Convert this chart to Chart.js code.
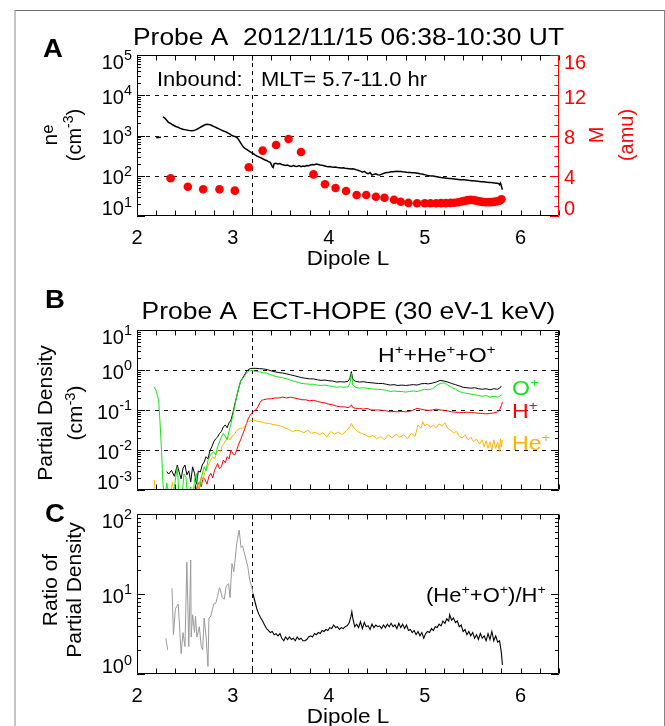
<!DOCTYPE html>
<html><head><meta charset="utf-8">
<script src="https://cdn.jsdelivr.net/npm/chart.js@4.4.1/dist/chart.umd.min.js"></script>
<style>
html,body{margin:0;padding:0;background:#fff;width:665px;height:726px;overflow:hidden;}
#frame{position:absolute;left:14px;top:10px;width:651px;height:780px;box-sizing:border-box;border-left:2px solid #c6c6c6;border-top:1px solid #6a6a6a;border-right:1px solid #858585;}
canvas{position:absolute;left:0;}
</style></head><body>
<div id="frame"></div>
<canvas id="cA" width="665" height="272" style="top:0px"></canvas>
<canvas id="cB" width="665" height="228" style="top:272px"></canvas>
<canvas id="cC" width="665" height="226" style="top:500px"></canvas>
<script>
// ---------------- DATA ----------------
const xTickLabels = [2, 3, 4, 5, 6];
const neTickExps = [1, 2, 3, 4, 5];
const mTickLabels = [0, 4, 8, 12, 16];
const pdTickExps = [-3, -2, -1, 0, 1];
const ratioTickExps = [0, 1, 2];
const plasmapauseL = 3.2;

// Panel A: electron density ne (cm^-3) vs dipole L
const neL = [2.20,2.25,2.26,2.27,2.29,2.31,2.33,2.35,2.37,2.39,2.41,2.43,2.45,2.47,2.49,2.51,2.53,2.55,2.57,2.59,2.61,2.63,2.65,2.67,2.69,2.71,2.73,2.75,2.77,2.79,2.81,2.83,2.85,2.87,2.89,2.91,2.93,2.95,2.97,2.99,3.01,3.03,3.05,3.07,3.09,3.11,3.13,3.15,3.17,3.19,3.21,3.23,3.25,3.27,3.29,3.31,3.33,3.35,3.37,3.39,3.41,3.42,3.43,3.45,3.47,3.49,3.51,3.53,3.55,3.57,3.59,3.61,3.63,3.65,3.67,3.69,3.71,3.73,3.75,3.77,3.79,3.81,3.83,3.85,3.87,3.89,3.91,3.93,3.95,3.97,3.99,4.01,4.03,4.05,4.07,4.09,4.11,4.13,4.15,4.17,4.19,4.21,4.23,4.25,4.27,4.29,4.31,4.33,4.35,4.37,4.39,4.41,4.43,4.45,4.47,4.49,4.51,4.53,4.55,4.57,4.59,4.61,4.63,4.65,4.67,4.69,4.71,4.73,4.75,4.77,4.79,4.81,4.83,4.85,4.87,4.89,4.91,4.93,4.95,4.97,4.99,5.01,5.03,5.05,5.07,5.09,5.11,5.13,5.15,5.17,5.19,5.21,5.23,5.25,5.27,5.29,5.31,5.33,5.35,5.37,5.39,5.41,5.43,5.45,5.47,5.49,5.51,5.53,5.55,5.57,5.59,5.61,5.63,5.65,5.67,5.69,5.71,5.73,5.75,5.77,5.78,5.79,5.80,5.81];
const neV = [880,900,null,2900,2700,2400,2100,2000,1850,1750,1650,1600,1500,1450,1400,1380,1350,1330,1320,1330,1380,1450,1550,1650,1750,1850,1900,1880,1820,1720,1640,1560,1480,1400,1330,1270,1220,1150,1080,1000,960,930,850,720,600,520,470,440,410,380,357,330,310,295,280,265,250,240,225,215,170,160,200,205,195,200,190,185,180,185,175,170,180,172,170,178,168,175,170,180,178,185,190,188,195,190,185,182,178,172,168,170,165,162,165,160,158,156,158,154,152,150,148,150,145,140,135,130,122,128,118,112,120,104,108,112,106,104,110,114,118,120,122,125,126,128,129,128,127,125,124,122,121,120,119,118,117,115,112,110,108,105,102,100,99,98,96,94,92,90,89,88,87,86,85,84,83,82,81,80,79,79,78,77,76,75,75,74,73,72,71,71,70,69,68,68,67,66,65,64,60,66,55,45];

// Panel A: average ion mass M (amu), right axis
const mL = [2.35,2.53,2.69,2.86,3.02,3.165,3.31,3.45,3.58,3.71,3.84,3.96,4.07,4.18,4.29,4.39,4.49,4.58,4.68,4.75,4.83,4.92,5.00,5.06,5.12,5.17,5.22,5.27,5.31,5.35,5.39,5.42,5.45,5.48,5.51,5.54,5.57,5.60,5.63,5.66,5.69,5.72,5.75,5.78,5.80];
const mV = [3.75,2.91,2.65,2.65,2.52,4.84,6.5,7.06,7.65,6.36,4.14,3.15,2.78,2.48,2.09,2.09,1.92,1.82,1.62,1.42,1.30,1.26,1.26,1.26,1.26,1.28,1.28,1.30,1.32,1.36,1.45,1.52,1.58,1.60,1.58,1.52,1.45,1.40,1.36,1.36,1.38,1.40,1.45,1.52,1.66];

// Panel B: partial densities (cm^-3)
const totL = [2.31,2.33,2.36,2.39,2.42,2.44,2.46,2.48,2.50,2.52,2.54,2.56,2.58,2.60,2.62,2.64,2.66,2.68,2.70,2.72,2.74,2.76,2.78,2.80,2.82,2.84,2.86,2.88,2.90,2.92,2.94,2.96,2.98,3.00,3.02,3.04,3.06,3.08,3.10,3.12,3.14,3.16,3.18,3.20,3.24,3.28,3.32,3.36,3.40,3.44,3.48,3.52,3.56,3.60,3.64,3.68,3.72,3.76,3.80,3.84,3.88,3.92,3.96,4.00,4.04,4.08,4.12,4.16,4.20,4.22,4.235,4.25,4.28,4.32,4.36,4.40,4.44,4.48,4.52,4.56,4.60,4.64,4.68,4.72,4.76,4.80,4.84,4.88,4.92,4.96,5.00,5.04,5.08,5.12,5.16,5.20,5.24,5.28,5.32,5.36,5.40,5.44,5.48,5.52,5.56,5.60,5.64,5.68,5.72,5.76,5.78,5.80];
const totV = [0.0029,0.0025,0.0031,0.0022,0.0042,0.0028,0.0019,0.0035,0.0042,0.0024,0.0030,0.0016,0.0038,0.0026,0.0014,0.0030,0.0028,0.0042,0.0050,0.0068,0.0060,0.0095,0.012,0.016,0.019,0.021,0.026,0.029,0.038,0.042,0.036,0.048,0.056,0.085,0.14,0.22,0.35,0.52,0.62,0.75,0.90,1.02,1.08,1.10,1.10,1.08,1.06,1.02,0.95,0.90,0.86,0.84,0.80,0.76,0.72,0.68,0.64,0.62,0.60,0.60,0.57,0.55,0.56,0.54,0.53,0.50,0.51,0.50,0.52,0.62,0.91,0.58,0.52,0.50,0.51,0.49,0.48,0.47,0.46,0.46,0.44,0.42,0.43,0.41,0.42,0.41,0.42,0.43,0.42,0.45,0.46,0.45,0.47,0.50,0.55,0.53,0.50,0.46,0.43,0.40,0.37,0.36,0.35,0.36,0.34,0.33,0.34,0.32,0.34,0.33,0.35,0.40];

const oxL = [2.18,2.20,2.225,2.24,2.26,2.27,2.29,2.31,2.33,2.36,2.39,2.42,2.44,2.47,2.49,2.51,2.53,2.56,2.58,2.60,2.62,2.64,2.67,2.70,2.72,2.74,2.76,2.78,2.80,2.82,2.84,2.86,2.88,2.90,2.92,2.94,2.96,2.98,3.00,3.02,3.04,3.06,3.08,3.10,3.12,3.14,3.16,3.18,3.20,3.24,3.28,3.32,3.36,3.40,3.44,3.48,3.52,3.56,3.60,3.64,3.68,3.72,3.76,3.80,3.84,3.88,3.92,3.96,4.00,4.04,4.08,4.12,4.16,4.20,4.22,4.235,4.25,4.28,4.32,4.36,4.40,4.44,4.48,4.52,4.56,4.60,4.64,4.68,4.72,4.76,4.80,4.84,4.88,4.92,4.96,5.00,5.04,5.08,5.12,5.16,5.20,5.24,5.28,5.32,5.36,5.40,5.44,5.48,5.52,5.56,5.60,5.64,5.68,5.72,5.76,5.78,5.80];
const oxV = [0.38,0.30,0.18,0.05,0.006,0.0015,0.0006,0.0015,0.0008,0.0004,0.0012,0.0038,0.0006,0.0008,0.0025,0.0021,0.0006,0.0012,0.0005,0.0018,0.0026,0.0007,0.0020,0.0038,0.0030,0.0055,0.0070,0.0083,0.0090,0.0075,0.012,0.016,0.021,0.026,0.022,0.018,0.030,0.046,0.075,0.13,0.22,0.35,0.52,0.60,0.70,0.83,0.92,0.98,0.97,0.92,0.90,0.86,0.82,0.76,0.70,0.66,0.64,0.60,0.56,0.52,0.49,0.46,0.45,0.44,0.44,0.42,0.41,0.42,0.40,0.39,0.37,0.38,0.37,0.38,0.46,0.83,0.42,0.37,0.35,0.36,0.35,0.34,0.33,0.33,0.32,0.31,0.29,0.30,0.29,0.29,0.28,0.29,0.30,0.29,0.31,0.33,0.32,0.34,0.40,0.46,0.48,0.42,0.37,0.33,0.29,0.27,0.26,0.25,0.24,0.23,0.22,0.23,0.21,0.22,0.21,0.22,0.24];

const hL = [2.30,2.40,2.50,2.58,2.62,2.65,2.67,2.69,2.71,2.73,2.75,2.77,2.79,2.81,2.83,2.84,2.86,2.88,2.90,2.92,2.94,2.96,2.98,3.00,3.02,3.04,3.06,3.08,3.10,3.12,3.14,3.16,3.18,3.20,3.22,3.24,3.26,3.28,3.30,3.32,3.36,3.40,3.44,3.48,3.52,3.56,3.60,3.64,3.68,3.72,3.76,3.80,3.84,3.88,3.92,3.96,4.00,4.04,4.08,4.12,4.16,4.20,4.22,4.235,4.25,4.28,4.32,4.36,4.40,4.44,4.48,4.52,4.56,4.60,4.64,4.68,4.72,4.76,4.80,4.84,4.88,4.92,4.96,5.00,5.04,5.08,5.12,5.16,5.20,5.24,5.28,5.32,5.36,5.40,5.44,5.48,5.52,5.56,5.60,5.64,5.68,5.72,5.76,5.78,5.80,5.81];
const hV = [0.0007,0.0006,0.0008,0.0007,0.0011,0.0016,0.0012,0.0021,0.0018,0.0014,0.0022,0.0026,0.0020,0.0032,0.0040,0.0046,0.0034,0.0038,0.0056,0.0048,0.0068,0.0060,0.0100,0.0080,0.0075,0.0100,0.0140,0.018,0.024,0.032,0.045,0.060,0.075,0.085,0.095,0.10,0.12,0.15,0.175,0.18,0.19,0.19,0.20,0.20,0.21,0.20,0.21,0.20,0.19,0.18,0.18,0.17,0.175,0.165,0.155,0.15,0.14,0.135,0.125,0.12,0.12,0.115,0.12,0.135,0.115,0.11,0.11,0.105,0.11,0.10,0.10,0.10,0.098,0.095,0.090,0.092,0.090,0.092,0.090,0.092,0.10,0.11,0.105,0.10,0.098,0.10,0.105,0.10,0.098,0.095,0.09,0.088,0.087,0.086,0.088,0.086,0.085,0.083,0.082,0.08,0.082,0.085,0.09,0.10,0.13,0.16];

const heL = [2.18,2.19,2.35,2.37,2.39,2.55,2.60,2.63,2.65,2.67,2.69,2.71,2.73,2.75,2.77,2.79,2.81,2.83,2.85,2.87,2.89,2.91,2.93,2.95,2.97,2.99,3.01,3.03,3.05,3.08,3.10,3.13,3.16,3.19,3.22,3.26,3.30,3.34,3.38,3.42,3.46,3.50,3.54,3.58,3.62,3.66,3.70,3.74,3.78,3.82,3.86,3.90,3.94,3.98,4.02,4.06,4.10,4.14,4.18,4.22,4.235,4.26,4.30,4.34,4.38,4.42,4.46,4.50,4.54,4.58,4.62,4.66,4.70,4.74,4.78,4.82,4.86,4.90,4.93,4.96,4.98,5.00,5.03,5.06,5.09,5.12,5.15,5.18,5.21,5.24,5.27,5.30,5.33,5.36,5.39,5.42,5.45,5.48,5.51,5.54,5.57,5.60,5.62,5.64,5.66,5.68,5.70,5.72,5.74,5.76,5.78,5.79,5.80,5.81];
const heV = [0.0018,0.0008,0.0008,0.0016,0.0007,0.0007,0.0012,0.0008,0.0015,0.0021,0.0018,0.0030,0.0035,0.0045,0.0056,0.0068,0.0060,0.0085,0.0100,0.0090,0.013,0.015,0.018,0.021,0.018,0.022,0.024,0.028,0.032,0.035,0.035,0.042,0.051,0.055,0.056,0.052,0.050,0.047,0.046,0.043,0.042,0.040,0.036,0.033,0.029,0.031,0.030,0.027,0.031,0.026,0.028,0.024,0.027,0.021,0.029,0.025,0.028,0.024,0.030,0.038,0.046,0.036,0.029,0.026,0.024,0.021,0.023,0.019,0.022,0.018,0.024,0.020,0.025,0.021,0.024,0.019,0.026,0.022,0.042,0.035,0.051,0.040,0.045,0.037,0.042,0.036,0.045,0.040,0.048,0.035,0.031,0.027,0.029,0.022,0.020,0.024,0.018,0.021,0.016,0.019,0.014,0.018,0.012,0.017,0.011,0.016,0.010,0.018,0.011,0.016,0.009,0.019,0.012,0.018];

// Panel C: ratio (He+ + O+)/H+ ; inside plasmasphere (gray) and outside (black)
const ratInL = [2.30,2.32,2.34,2.365,2.38,2.40,2.43,2.46,2.48,2.50,2.52,2.54,2.56,2.565,2.58,2.60,2.61,2.625,2.65,2.67,2.685,2.70,2.72,2.74,2.75,2.77,2.80,2.82,2.84,2.86,2.87,2.89,2.91,2.93,2.955,2.97,2.99,3.01,3.04,3.065,3.085,3.10,3.13,3.155,3.175,3.20,3.21];
const ratInV = [2.8,2.0,null,11.8,3.1,6.5,7.5,1.8,3.3,2.2,25,2.2,26.6,2.9,5.5,3.3,5.3,2.9,3.9,2.2,2.0,5.0,3.0,1.24,5.0,5.3,7.5,7.6,9.3,12,11.2,9.0,8.6,12.5,13.5,9,24,19,43,63,38,40,29,22,15,11.8,10];
const ratOutL = [3.21,3.23,3.25,3.27,3.29,3.31,3.33,3.35,3.37,3.39,3.41,3.43,3.45,3.47,3.49,3.51,3.53,3.55,3.57,3.59,3.61,3.63,3.65,3.67,3.69,3.71,3.73,3.75,3.77,3.79,3.81,3.83,3.85,3.87,3.89,3.91,3.93,3.95,3.97,3.99,4.01,4.03,4.05,4.07,4.09,4.11,4.13,4.15,4.17,4.19,4.21,4.23,4.24,4.25,4.27,4.29,4.31,4.33,4.35,4.37,4.39,4.41,4.43,4.45,4.47,4.49,4.51,4.53,4.55,4.57,4.59,4.61,4.63,4.65,4.67,4.69,4.71,4.73,4.75,4.77,4.79,4.81,4.83,4.85,4.87,4.89,4.91,4.93,4.95,4.97,4.99,5.01,5.03,5.05,5.07,5.09,5.11,5.13,5.15,5.17,5.19,5.21,5.23,5.25,5.26,5.28,5.30,5.32,5.34,5.36,5.38,5.40,5.42,5.44,5.46,5.48,5.50,5.52,5.54,5.56,5.58,5.60,5.62,5.64,5.66,5.68,5.70,5.72,5.74,5.76,5.78,5.79,5.80,5.81];
const ratOutV = [10,8.0,6.5,5.6,5.0,4.6,4.1,3.7,3.5,3.3,3.4,3.1,3.2,3.0,3.2,2.8,2.6,2.9,2.7,2.9,2.7,2.8,2.6,2.9,2.7,2.8,2.6,2.6,2.7,2.9,3.0,2.9,3.2,3.1,3.3,3.2,3.5,3.4,3.6,3.5,3.8,3.7,4.1,3.8,3.9,3.6,3.8,3.7,3.9,4.0,4.3,5.2,6.0,5.0,3.9,4.2,3.8,4.5,3.7,4.4,3.9,4.0,3.6,4.2,3.8,4.1,3.9,4.0,3.7,4.1,3.8,4.2,3.9,4.3,3.9,4.1,3.7,4.3,3.8,4.2,3.7,4.1,3.5,3.6,3.3,3.5,3.1,3.4,3.0,3.3,2.8,3.2,3.4,3.3,3.7,3.5,3.9,3.8,4.2,4.0,4.6,4.3,4.9,4.6,5.5,4.7,5.0,4.4,4.6,3.9,4.1,3.4,3.6,3.1,3.4,3.0,3.3,2.8,3.1,2.7,3.2,2.8,3.0,2.6,3.2,2.7,3.4,2.6,3.0,2.5,2.6,2.2,1.8,1.3];

// ---------------- DRAWING ----------------
const FONT = '"Liberation Sans", Arial, Helvetica, sans-serif';
const pts = (L, V) => L.map((x, i) => ({x: x, y: V[i]}));

function rich(ctx, parts, x, y, o) {
  o = Object.assign({size: 20, align: 'left', k: 1, color: '#000', bold: false, rot: 0}, o || {});
  const segs = parts.map(p => {
    const sc = p[1] || 1, rise = p[2] || 0;
    const f = (o.bold ? 'bold ' : '') + (o.size * sc).toFixed(1) + 'px ' + FONT;
    ctx.font = f;
    return {t: p[0], f: f, w: ctx.measureText(p[0]).width, rise: rise};
  });
  const tot = segs.reduce((a, s) => a + s.w, 0);
  let cx = o.align === 'center' ? -tot / 2 : (o.align === 'right' ? -tot : 0);
  ctx.save();
  ctx.translate(x, y);
  if (o.rot) ctx.rotate(o.rot);
  ctx.scale(o.k, 1);
  ctx.fillStyle = o.color; ctx.textAlign = 'left'; ctx.textBaseline = 'alphabetic';
  segs.forEach(s => { ctx.font = s.f; ctx.fillText(s.t, cx, -s.rise); cx += s.w; });
  ctx.restore();
}

function dashedH(c, ys, vals, color) {
  const ctx = c.ctx, a = c.chartArea;
  ctx.save(); ctx.strokeStyle = color || '#111'; ctx.lineWidth = 1; ctx.setLineDash([4, 5]);
  ctx.beginPath();
  vals.forEach(v => { const py = Math.round(ys.getPixelForValue(v)) + 0.5; ctx.moveTo(a.left, py); ctx.lineTo(a.right, py); });
  ctx.stroke(); ctx.restore();
}
function dashedV(c) {
  const ctx = c.ctx, a = c.chartArea;
  const px = Math.round(c.scales.x.getPixelForValue(plasmapauseL)) + 0.5;
  ctx.save(); ctx.strokeStyle = '#000'; ctx.lineWidth = 1; ctx.setLineDash([4, 4]);
  ctx.beginPath(); ctx.moveTo(px, a.top); ctx.lineTo(px, a.bottom); ctx.stroke(); ctx.restore();
}
function frame(c, rightColor) {
  const ctx = c.ctx, a = c.chartArea, xs = c.scales.x;
  ctx.save(); ctx.lineWidth = 1; ctx.setLineDash([]); ctx.strokeStyle = '#000';
  const L = a.left + 0.5, R = a.right - 0.5, T = a.top + 0.5, B = a.bottom - 0.5;
  ctx.beginPath(); ctx.moveTo(R, T); ctx.lineTo(L, T); ctx.lineTo(L, B); ctx.lineTo(R, B); ctx.stroke();
  ctx.strokeStyle = rightColor || '#000';
  ctx.beginPath(); ctx.moveTo(R, T); ctx.lineTo(R, B); ctx.stroke();
  ctx.strokeStyle = '#000'; ctx.beginPath();
  for (let i = 0; i <= 22; i++) {
    const px = Math.round(xs.getPixelForValue(2 + i * 0.2)) + 0.5;
    ctx.moveTo(px, B); ctx.lineTo(px, B - 5);
    ctx.moveTo(px, T); ctx.lineTo(px, T + 5);
  }
  ctx.stroke(); ctx.restore();
}
function logTicks(c, ys, side, emin, emax, color) {
  const ctx = c.ctx, a = c.chartArea;
  ctx.save(); ctx.lineWidth = 1; ctx.strokeStyle = color || '#000'; ctx.beginPath();
  for (let e = emin; e <= emax; e++) {
    for (let k = 1; k <= 9; k++) {
      if (e === emax && k > 1) break;
      const py = Math.round(ys.getPixelForValue(k * Math.pow(10, e))) + 0.5;
      const len = k === 1 ? 8 : 4;
      if (side === 'l') { ctx.moveTo(a.left, py); ctx.lineTo(a.left + len, py); }
      else { ctx.moveTo(a.right, py); ctx.lineTo(a.right - len, py); }
    }
  }
  ctx.stroke(); ctx.restore();
}
function labelCenter(c, py) {
  const a = c.chartArea;
  if (Math.abs(py - a.top) < 1.5) return py + 6.5;
  if (Math.abs(py - a.bottom) < 1.5) return py - 8;
  return py + 1.5;
}
function logLabels(c, ys, exps) {
  exps.forEach(e => {
    const cy = labelCenter(c, ys.getPixelForValue(Math.pow(10, e)));
    rich(c.ctx, [['10'], [String(e), 0.72, 8.5]], 132, cy + 7.1, {size: 20, align: 'right'});
  });
}
function xLabels(c, oy, bottomPage) {
  const xs = c.scales.x;
  xTickLabels.forEach(v => rich(c.ctx, [[String(v)]], xs.getPixelForValue(v), bottomPage + 27.5 - oy, {size: 20, align: 'center'}));
  rich(c.ctx, [['Dipole L']], (c.chartArea.left + c.chartArea.right) / 2, bottomPage + 48.5 - oy, {size: 21, align: 'center', k: 1.07});
}
const ROT = -Math.PI / 2;

function makeChart(id, H, area, oy, datasets, scales, before, after) {
  return new Chart(document.getElementById(id), {
    type: 'scatter',
    data: {datasets: datasets},
    options: {
      responsive: false, animation: false, events: [],
      layout: {padding: {left: area.l, right: 665 - area.r, top: area.t - oy, bottom: H - (area.b - oy)}},
      plugins: {legend: {display: false}, tooltip: {enabled: false}, title: {display: false}},
      scales: scales
    },
    plugins: [{id: 'deco' + id, beforeDatasetsDraw: before, afterDatasetsDraw: after}]
  });
}
const xScale = {type: 'linear', min: 2, max: 6.4, display: false};

// ---- Panel A ----
makeChart('cA', 272, {l: 137, t: 55, r: 559, b: 216}, 0, [
  {data: pts(mL, mV), yAxisID: 'y2', showLine: false, pointRadius: 4.3, pointBackgroundColor: '#ff0000', pointBorderWidth: 0, order: 1},
  {data: pts(neL, neV), yAxisID: 'y', showLine: true, pointRadius: 0, borderColor: '#000', borderWidth: 1.5, spanGaps: false, order: 2}
], {x: xScale, y: {type: 'logarithmic', min: 10, max: 1e5, display: false}, y2: {type: 'linear', min: 0, max: 16, display: false}},
function (c) { dashedH(c, c.scales.y, [1e2, 1e3, 1e4]); dashedV(c); },
function (c) {
  const ctx = c.ctx, a = c.chartArea, y2 = c.scales.y2;
  frame(c, '#ff0000');
  logTicks(c, c.scales.y, 'l', 1, 5);
  ctx.save(); ctx.strokeStyle = '#ff0000'; ctx.lineWidth = 1; ctx.beginPath();
  for (let m = 0; m <= 16; m++) { const py = Math.round(y2.getPixelForValue(m)) + 0.5; const len = m % 4 === 0 ? 9 : 4.5; ctx.moveTo(a.right, py); ctx.lineTo(a.right - len, py); }
  ctx.stroke(); ctx.restore();
  logLabels(c, c.scales.y, neTickExps);
  mTickLabels.forEach(m => { const cy = labelCenter(c, y2.getPixelForValue(m)); rich(ctx, [[String(m)]], 564, cy + 7.1, {size: 20, color: '#ff0000'}); });
  xLabels(c, 0, 216);
  rich(ctx, [['A']], 43, 57, {size: 25, bold: true, k: 1.1});
  rich(ctx, [['Probe A  2012/11/15 06:38-10:30 UT']], 348.5, 45, {size: 24, align: 'center', k: 1.1});
  rich(ctx, [['Inbound:   MLT= 5.7-11.0 hr']], 157, 86, {size: 20, k: 1.1});
  rich(ctx, [['n'], ['e', 0.8, 3.5]], 56.5, 135, {size: 21, rot: ROT, align: 'center'});
  rich(ctx, [['(cm'], ['-3', 0.7, 7.5], [')']], 80.5, 135, {size: 20, rot: ROT, align: 'center'});
  rich(ctx, [['M']], 603, 135, {size: 20, rot: ROT, align: 'center', color: '#ff0000'});
  rich(ctx, [['(amu)']], 633, 135, {size: 20, rot: ROT, align: 'center', color: '#ff0000'});
});

// ---- Panel B ----
const oyB = 272;
makeChart('cB', 228, {l: 137, t: 330, r: 559, b: 490}, oyB, [
  {data: pts(oxL, oxV), showLine: true, pointRadius: 0, borderColor: '#14e614', borderWidth: 1, order: 1},
  {data: pts(heL, heV), showLine: true, pointRadius: 0, borderColor: '#ffb300', borderWidth: 1, order: 2},
  {data: pts(hL, hV), showLine: true, pointRadius: 0, borderColor: '#ff0000', borderWidth: 1, order: 3},
  {data: pts(totL, totV), showLine: true, pointRadius: 0, borderColor: '#000', borderWidth: 1, order: 4}
], {x: xScale, y: {type: 'logarithmic', min: 1e-3, max: 10, display: false}},
function (c) { dashedH(c, c.scales.y, [1e-2, 1e-1, 1]); dashedV(c); },
function (c) {
  const ctx = c.ctx;
  frame(c, '#000');
  logTicks(c, c.scales.y, 'l', -3, 1);
  logTicks(c, c.scales.y, 'r', -3, 1);
  logLabels(c, c.scales.y, pdTickExps);
  rich(ctx, [['B']], 45, 308 - oyB, {size: 25, bold: true, k: 1.1});
  rich(ctx, [['Probe A  ECT-HOPE (30 eV-1 keV)']], 348.5, 319 - oyB, {size: 24, align: 'center', k: 1.1});
  rich(ctx, [['H'], ['+', 0.65, 8], ['+He'], ['+', 0.65, 8], ['+O'], ['+', 0.65, 8]], 378, 361.5 - oyB, {size: 21, k: 1.1});
  rich(ctx, [['O'], ['+', 0.65, 8]], 512, 395 - oyB, {size: 21, k: 1.1, color: '#14e614'});
  rich(ctx, [['H'], ['+', 0.65, 8]], 512, 418 - oyB, {size: 21, k: 1.1, color: '#ff0000'});
  rich(ctx, [['He'], ['+', 0.65, 8]], 512, 450 - oyB, {size: 21, k: 1.1, color: '#ffb300'});
  rich(ctx, [['Partial Density']], 52, 413 - oyB, {size: 21, rot: ROT, align: 'center'});
  rich(ctx, [['(cm'], ['-3', 0.7, 7.5], [')']], 82, 413 - oyB, {size: 21, rot: ROT, align: 'center'});
});

// ---- Panel C ----
const oyC = 500;
makeChart('cC', 226, {l: 137, t: 514, r: 559, b: 674}, oyC, [
  {data: pts(ratInL, ratInV), showLine: true, pointRadius: 0, borderColor: '#9a9a9a', borderWidth: 1, spanGaps: false, order: 2},
  {data: pts(ratOutL, ratOutV), showLine: true, pointRadius: 0, borderColor: '#000', borderWidth: 1.1, order: 1}
], {x: xScale, y: {type: 'logarithmic', min: 1, max: 100, display: false}},
function (c) { dashedV(c); },
function (c) {
  const ctx = c.ctx;
  frame(c, '#000');
  logTicks(c, c.scales.y, 'l', 0, 2);
  logTicks(c, c.scales.y, 'r', 0, 2);
  logLabels(c, c.scales.y, ratioTickExps);
  xLabels(c, oyC, 674);
  rich(ctx, [['C']], 45, 522 - oyC, {size: 25, bold: true, k: 1.1});
  rich(ctx, [['(He'], ['+', 0.65, 8], ['+O'], ['+', 0.65, 8], [')/H'], ['+', 0.65, 8]], 426, 601.5 - oyC, {size: 20, k: 1.1});
  rich(ctx, [['Ratio of']], 57, 590 - oyC, {size: 21, rot: ROT, align: 'center'});
  rich(ctx, [['Partial Density']], 81, 590 - oyC, {size: 21, rot: ROT, align: 'center'});
});
</script>
</body></html>
